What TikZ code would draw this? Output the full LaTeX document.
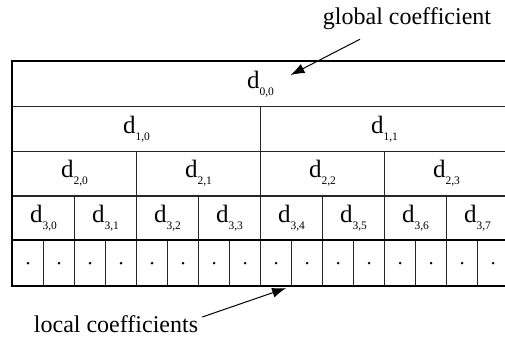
\documentclass[tikz,border=0pt]{standalone}
\usepackage{fontspec}
\setmainfont{Liberation Serif}
\usetikzlibrary{arrows.meta,positioning,calc}

\newcommand{\coef}[2]{d\raisebox{-7pt}{\fontsize{11.5}{12}\selectfont #1,#2}}

\begin{document}
\begin{tikzpicture}[x=1pt, y=-1pt]
    \tikzset{cell/.style={rectangle, draw=black!85, line width=1.1pt, inner sep=0pt, minimum height=44.8pt, anchor=north west, font=\fontsize{25}{27}\selectfont}}
    \tikzset{note/.style={inner sep=0pt, font=\fontsize{24}{26}\selectfont}}
    \tikzset{pointer/.style={-{Latex[length=14pt,width=10pt]}, line width=1pt}}
    \tikzset{frame/.style={line width=2.2pt, line cap=rect}}

    \useasboundingbox (0,0) rectangle (505,337);
    \clip (0,0) rectangle (505,337);

    % Levels of coefficients
    \foreach \lev/\num in {0/1,1/2,2/4,3/8}{
        \pgfmathsetmacro{\wid}{496/\num}
        \pgfmathtruncatemacro{\last}{\num-1}
        \foreach \k in {0,...,\last}{
            \node[cell, minimum width=\wid pt] (d\lev\k) at ({12+\k*\wid}, {61+\lev*44.8}) {\coef{\lev}{\k}};
        }
    }

    % Local coefficients
    \foreach \k in {0,...,15}{
        \node[cell, minimum width=31pt] (p\k) at ({12+\k*31}, 240.2) {};
        \fill (p\k.center) circle (1.4pt);
    }

    % Frame
    \draw[line width=1.5pt] (d30.south west) |- (d00.north east);
    \draw[frame] (p0.north west) -- (p0.south west) -- (p15.south east);
    \draw[frame] (p0.north west) -- (p15.north east);

    % Labels
    \node[note] (glob) at (407,19) {global coefficient};
    \node[note] (loc) at (116,324) {local coefficients};
    \coordinate (gtail) at ($(glob.south)+(-47,9)$);
    \coordinate (gtip) at ($(d00.north)+(30,14)$);
    \coordinate (ltail) at ($(loc.east)+(4,-7)$);
    \coordinate (ltip) at ($(p8.south east)+(-6,2)$);
    \draw[pointer] (gtail) -- (gtip);
    \draw[pointer] (ltail) -- (ltip);
\end{tikzpicture}
\end{document}
